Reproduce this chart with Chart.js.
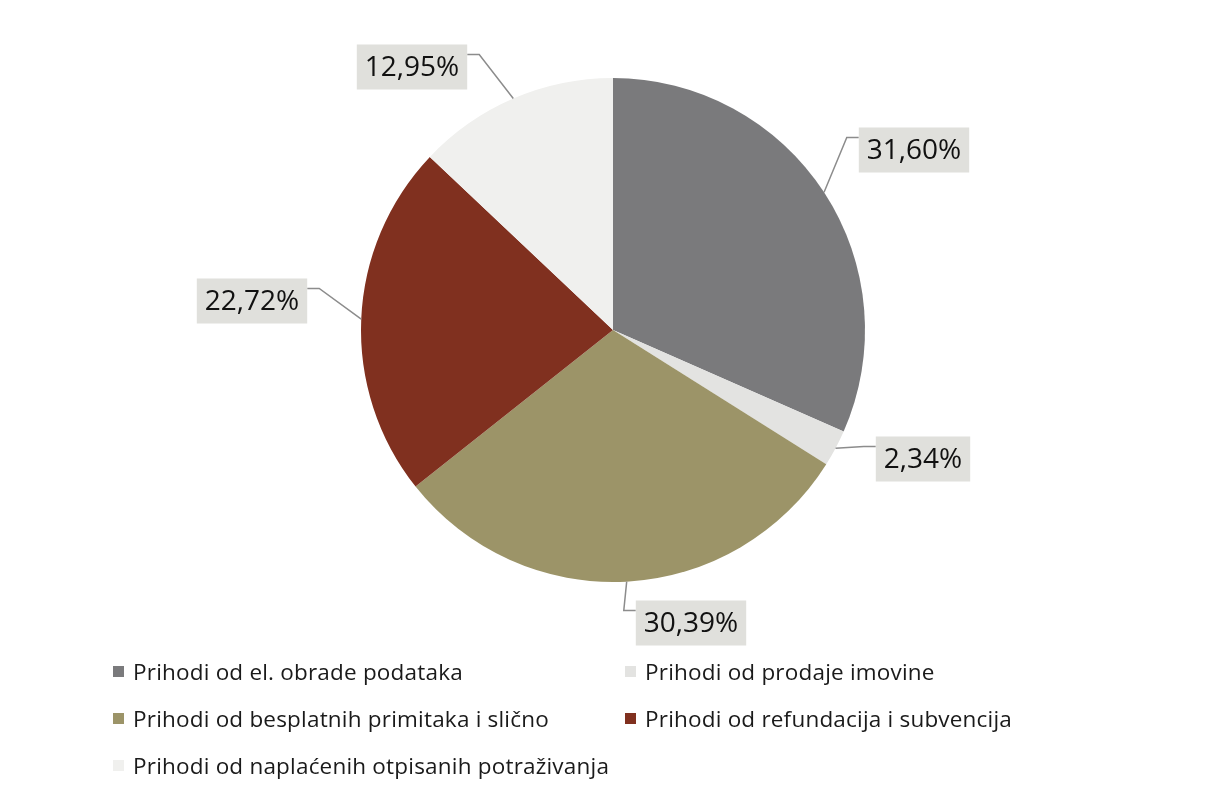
<!DOCTYPE html>
<html lang="hr">
<head>
    <meta charset="UTF-8">
    <title>Struktura prihoda</title>
    <script src="https://cdn.jsdelivr.net/npm/chart.js"></script>
    <style>
        body {
            margin: 0;
            background: #fff;
            font-family: "Open Sans", sans-serif;
        }
        .wrap {
            position: relative;
            width: 1206px;
            height: 795px;
        }
        #pieChart {
            position: absolute;
            left: 0;
            top: 0;
        }
        .legend {
            position: absolute;
            left: 113px;
            top: 656px;
            display: grid;
            grid-template-columns: 512px 420px;
            row-gap: 17px;
            font-size: 22.5px;
            letter-spacing: 0.2px;
            color: #1a1a1a;
        }
        .legend div {
            display: flex;
            align-items: center;
            height: 30px;
            white-space: nowrap;
        }
        .legend span.box {
            width: 11px;
            height: 11px;
            margin-right: 9px;
            display: inline-block;
            flex: none;
        }
    </style>
</head>
<body>
<div class="wrap">
    <canvas id="pieChart" width="1206" height="795"></canvas>
    <div class="legend" id="legend"></div>
</div>

<script>
    // Slice data (clockwise from 12 o'clock)
    const categories = [
        "Prihodi od el. obrade podataka",
        "Prihodi od prodaje imovine",
        "Prihodi od besplatnih primitaka i slično",
        "Prihodi od refundacija i subvencija",
        "Prihodi od naplaćenih otpisanih potraživanja"
    ];
    const shares = [31.60, 2.34, 30.39, 22.72, 12.95];
    const sliceColors = ["#7a7a7c", "#e3e3e1", "#9c9468", "#80301f", "#f0f0ee"];

    // where each data label box sits, relative to the pie centre
    const labelOffsets = [[301, -180], [310, 129], [78, 293], [-361, -29], [-201, -263]];

    const fmt = v => v.toFixed(2).replace('.', ',') + '%';

    // leader lines + boxed labels
    const calloutPlugin = {
        id: 'callouts',
        afterDatasetsDraw(chart) {
            const ctx = chart.ctx;
            const meta = chart.getDatasetMeta(0);
            ctx.save();
            ctx.font = '28px "Open Sans", sans-serif';
            ctx.textAlign = 'center';
            ctx.textBaseline = 'middle';
            meta.data.forEach((arc, i) => {
                const p = arc.getProps(['x', 'y', 'startAngle', 'endAngle', 'outerRadius']);
                const mid = (p.startAngle + p.endAngle) / 2;
                const ax = p.x + Math.cos(mid) * p.outerRadius;
                const ay = p.y + Math.sin(mid) * p.outerRadius;
                const cx = p.x + labelOffsets[i][0];
                const cy = p.y + labelOffsets[i][1];
                const text = fmt(shares[i]);
                const w = ctx.measureText(text).width + 16;
                const h = 45;
                const left = cx - w / 2, top = cy - h / 2;

                // leader line
                const attachLeft = cx > ax;
                const ex = attachLeft ? left : left + w;
                const ey = top + 10;
                const bx = attachLeft ? ex - 12 : ex + 12;
                ctx.strokeStyle = '#8c8c8c';
                ctx.lineWidth = 1.5;
                ctx.beginPath();
                ctx.moveTo(ax, ay);
                ctx.lineTo(bx, ey);
                ctx.lineTo(ex, ey);
                ctx.stroke();

                // box
                ctx.fillStyle = '#e0e0dc';
                ctx.fillRect(left, top, w, h);
                ctx.fillStyle = '#111';
                ctx.fillText(text, cx, cy + 1);
            });
            ctx.restore();
        }
    };

    const ctx = document.getElementById('pieChart').getContext('2d');
    const pieChart = new Chart(ctx, {
        type: 'pie',
        data: {
            labels: categories,
            datasets: [{
                data: shares,
                backgroundColor: sliceColors,
                borderWidth: 0,
                hoverOffset: 0
            }]
        },
        options: {
            responsive: false,
            animation: false,
            layout: {
                padding: { top: 78, bottom: 213, left: 20, right: 0 }
            },
            plugins: {
                legend: { display: false },
                tooltip: { enabled: false }
            }
        },
        plugins: [calloutPlugin]
    });

    // legend in two columns, row by row
    const legendEl = document.getElementById('legend');
    categories.forEach((name, i) => {
        const item = document.createElement('div');
        item.innerHTML = '<span class="box" style="background:' + sliceColors[i] + '"></span>' + name;
        legendEl.appendChild(item);
    });
</script>
</body>
</html>
